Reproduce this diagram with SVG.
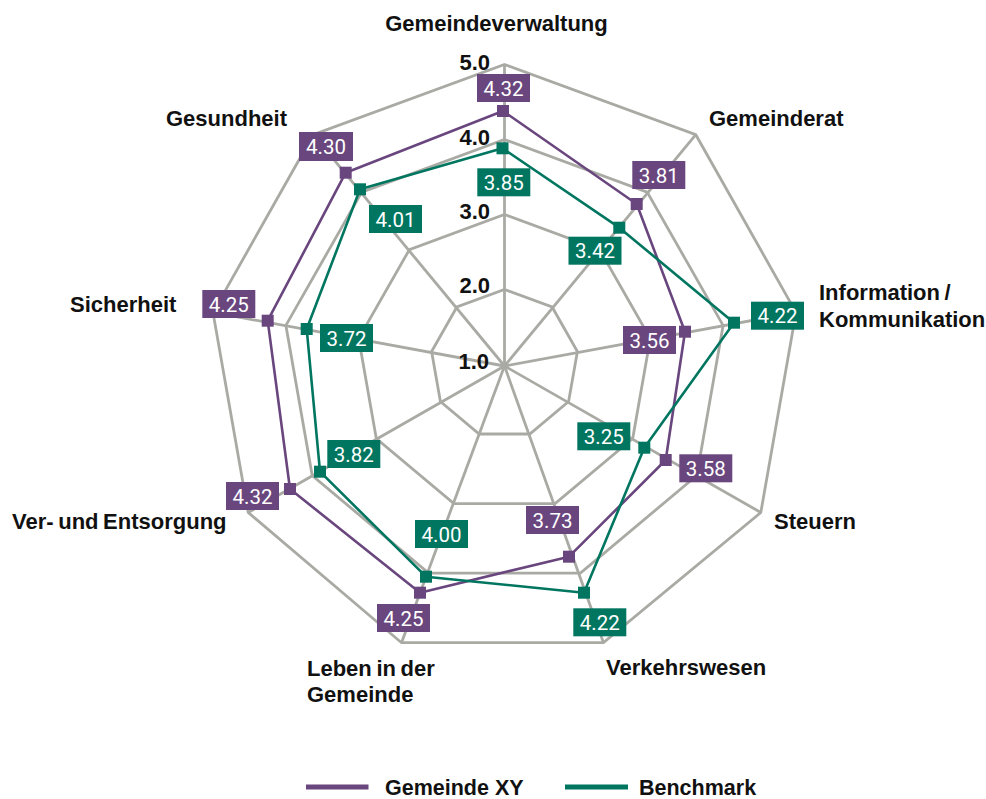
<svg xmlns="http://www.w3.org/2000/svg" width="986" height="799" viewBox="0 0 986 799">
<style>
.bg{fill:#ffffff}
.ring{fill:none;stroke:#aaaaa5;stroke-width:2.8;stroke-linejoin:miter}
.spoke{stroke:#aaaaa5;stroke-width:2.8}
.lp{fill:none;stroke:#69467d;stroke-width:2.6;stroke-linejoin:round}
.lg{fill:none;stroke:#007660;stroke-width:2.6;stroke-linejoin:round}
.mp{fill:#69467d}
.mg{fill:#007660}
.val{font-family:Roboto,"Liberation Sans",sans-serif;font-size:20.5px;fill:#ffffff;text-anchor:middle}
.cat{font-family:"Liberation Sans",Arial,sans-serif;font-size:22px;font-weight:bold;fill:#111111;word-spacing:-1.5px}
.tick{font-family:"Liberation Sans",Arial,sans-serif;font-size:22px;font-weight:bold;fill:#111111;text-anchor:end}
.leg{font-family:"Liberation Sans",Arial,sans-serif;font-size:21.5px;font-weight:bold;fill:#111111}
</style>
<rect class="bg" x="0" y="0" width="986" height="799"/>
<g id="grid">
<polygon class="ring" points="504.5,289.5 552.1,307 577.4,351.5 568.6,401.5 529.8,434 479.2,434 440.4,401.5 431.6,351.5 456.9,307"/>
<polygon class="ring" points="504.5,214.5 599.6,249.6 650.3,338.5 632.7,438.5 555.1,503.6 453.9,503.6 376.3,438.5 358.7,338.5 409.4,249.6"/>
<polygon class="ring" points="504.5,139.5 647.2,192.1 723.1,325.4 696.8,475.5 580.4,573.1 428.6,573.1 312.2,475.5 285.9,325.4 361.8,192.1"/>
<polygon class="ring" points="504.5,64.5 695.8,134.7 796,312.4 760.8,512.5 603.5,642.7 401.5,642.7 248.2,512.5 213,312.4 313.2,134.7"/>
<line class="spoke" x1="504.5" y1="366" x2="504.5" y2="64.5"/>
<line class="spoke" x1="504.5" y1="366" x2="695.8" y2="134.7"/>
<line class="spoke" x1="504.5" y1="366" x2="796" y2="312.4"/>
<line class="spoke" x1="504.5" y1="366" x2="760.8" y2="512.5"/>
<line class="spoke" x1="504.5" y1="366" x2="603.5" y2="642.7"/>
<line class="spoke" x1="504.5" y1="366" x2="401.5" y2="642.7"/>
<line class="spoke" x1="504.5" y1="366" x2="248.2" y2="512.5"/>
<line class="spoke" x1="504.5" y1="366" x2="213" y2="312.4"/>
<line class="spoke" x1="504.5" y1="366" x2="313.2" y2="134.7"/>
</g>
<g id="ticks">
<text class="tick" x="490" y="70">5.0</text>
<text class="tick" x="490" y="145">4.0</text>
<text class="tick" x="490" y="219">3.0</text>
<text class="tick" x="490" y="293">2.0</text>
<text class="tick" x="489" y="369">1.0</text>
</g>
<g id="connectors">
<polygon class="lp" points="503,111 636.7,204 685,331.7 665.7,460 569,556.7 420,592.7 290,489 267.7,320.7 345.7,172.7"/>
<polygon class="lg" points="502.5,148.3 619.3,227.7 734,322.7 644.3,447.7 584,592.7 426,576.7 320,471.7 306.7,329 360,189.3"/>
</g>
<g id="gemeinde-xy-markers">
<rect class="mp" x="497" y="105" width="12" height="12"/>
<rect class="mp" x="630.7" y="198" width="12" height="12"/>
<rect class="mp" x="679" y="325.7" width="12" height="12"/>
<rect class="mp" x="659.7" y="454" width="12" height="12"/>
<rect class="mp" x="563" y="550.7" width="12" height="12"/>
<rect class="mp" x="414" y="586.7" width="12" height="12"/>
<rect class="mp" x="284" y="483" width="12" height="12"/>
<rect class="mp" x="261.7" y="314.7" width="12" height="12"/>
<rect class="mp" x="339.7" y="166.7" width="12" height="12"/>
</g>
<g id="benchmark-markers">
<rect class="mg" x="496.5" y="142.3" width="12" height="12"/>
<rect class="mg" x="613.3" y="221.7" width="12" height="12"/>
<rect class="mg" x="728" y="316.7" width="12" height="12"/>
<rect class="mg" x="638.3" y="441.7" width="12" height="12"/>
<rect class="mg" x="578" y="586.7" width="12" height="12"/>
<rect class="mg" x="420" y="570.7" width="12" height="12"/>
<rect class="mg" x="314" y="465.7" width="12" height="12"/>
<rect class="mg" x="300.7" y="323" width="12" height="12"/>
<rect class="mg" x="354" y="183.3" width="12" height="12"/>
</g>
<g id="gemeinde-xy-labels">
<rect class="mp" x="477" y="74" width="53" height="28"/><text class="val" x="503.5" y="95.5">4.32</text>
<rect class="mp" x="632.3" y="161" width="53" height="28"/><text class="val" x="658.8" y="182.5">3.81</text>
<rect class="mp" x="623" y="326" width="53" height="28"/><text class="val" x="649.5" y="347.5">3.56</text>
<rect class="mp" x="679.3" y="454.3" width="53" height="28"/><text class="val" x="705.8" y="475.8">3.58</text>
<rect class="mp" x="526" y="506" width="53" height="28"/><text class="val" x="552.5" y="527.5">3.73</text>
<rect class="mp" x="377" y="604" width="53" height="28"/><text class="val" x="403.5" y="625.5">4.25</text>
<rect class="mp" x="226" y="482" width="53" height="28"/><text class="val" x="252.5" y="503.5">4.32</text>
<rect class="mp" x="202.3" y="290" width="53" height="28"/><text class="val" x="228.8" y="311.5">4.25</text>
<rect class="mp" x="299" y="132" width="54" height="29"/><text class="val" x="326" y="154">4.30</text>
</g>
<g id="benchmark-labels">
<rect class="mg" x="477.3" y="168.3" width="53" height="28"/><text class="val" x="503.8" y="189.8">3.85</text>
<rect class="mg" x="568.5" y="236.7" width="53" height="28"/><text class="val" x="595" y="258.2">3.42</text>
<rect class="mg" x="751" y="301.7" width="53" height="28"/><text class="val" x="777.5" y="323.2">4.22</text>
<rect class="mg" x="577.3" y="422.3" width="53" height="28"/><text class="val" x="603.8" y="443.8">3.25</text>
<rect class="mg" x="573.3" y="608.3" width="53" height="28"/><text class="val" x="599.8" y="629.8">4.22</text>
<rect class="mg" x="415" y="520" width="53" height="28"/><text class="val" x="441.5" y="541.5">4.00</text>
<rect class="mg" x="327.3" y="440" width="53" height="28"/><text class="val" x="353.8" y="461.5">3.82</text>
<rect class="mg" x="320" y="324" width="53" height="28"/><text class="val" x="346.5" y="345.5">3.72</text>
<rect class="mg" x="369" y="205" width="53" height="28"/><text class="val" x="395.5" y="226.5">4.01</text>
</g>
<g id="axis-labels">
<text class="cat" x="496.5" y="31" text-anchor="middle">Gemeindeverwaltung</text>
<text class="cat" x="709" y="126">Gemeinderat</text>
<text class="cat" x="819" y="300">Information /</text>
<text class="cat" x="819" y="327">Kommunikation</text>
<text class="cat" x="774" y="529">Steuern</text>
<text class="cat" x="606" y="675">Verkehrswesen</text>
<text class="cat" x="307" y="676">Leben in der</text>
<text class="cat" x="307" y="702">Gemeinde</text>
<text class="cat" x="12" y="529">Ver- und Entsorgung</text>
<text class="cat" x="70" y="312">Sicherheit</text>
<text class="cat" x="166" y="126">Gesundheit</text>
</g>
<g id="legend">
<line x1="306" y1="787" x2="368.5" y2="787" stroke="#69467d" stroke-width="5"/>
<text class="leg" x="385" y="795">Gemeinde XY</text>
<line x1="565" y1="787" x2="628" y2="787" stroke="#007660" stroke-width="5"/>
<text class="leg" x="639" y="795">Benchmark</text>
</g>
</svg>
